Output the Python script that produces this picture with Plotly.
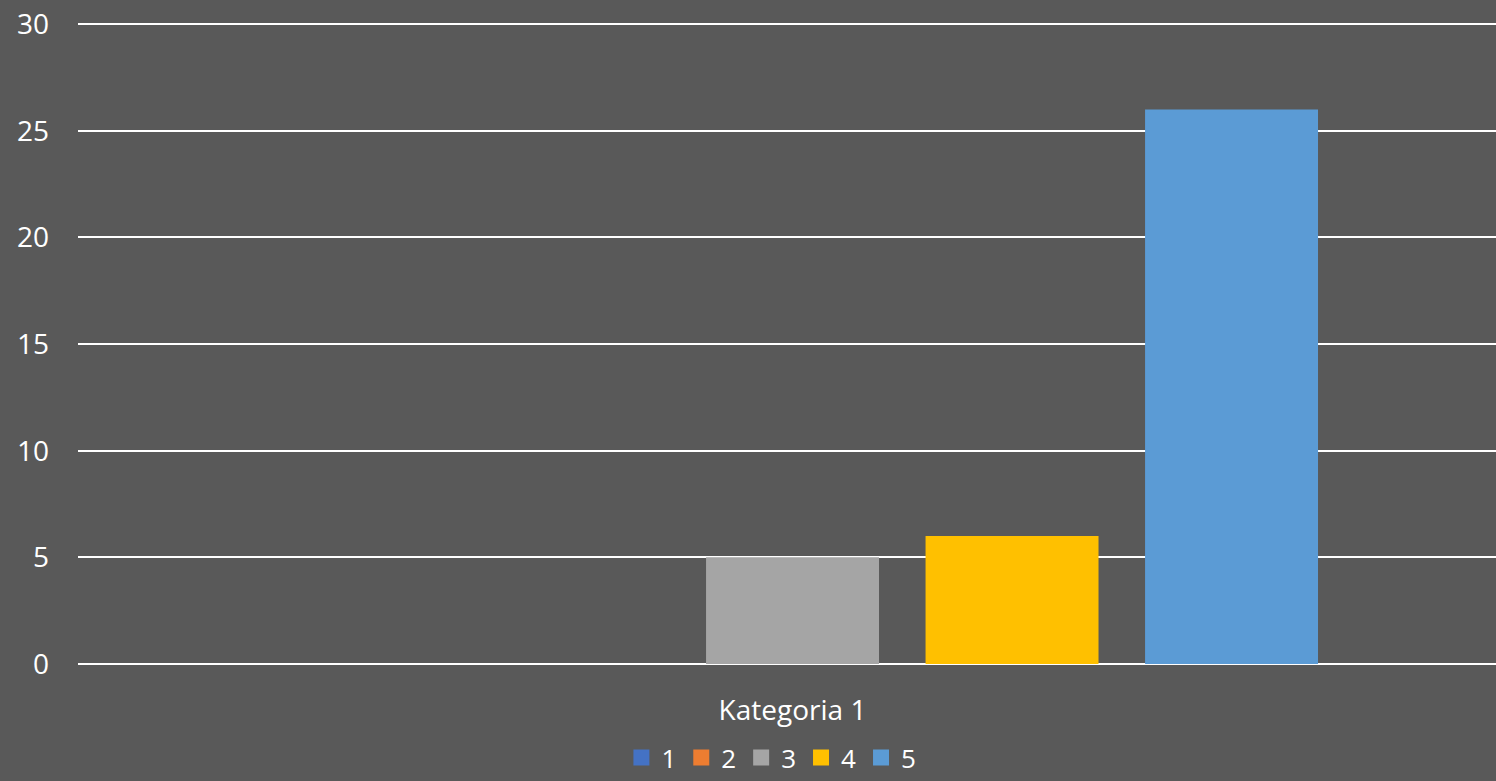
import plotly.graph_objects as go

categories = ["Kategoria 1"]
series_names = ["1", "2", "3", "4", "5"]
series_values = [[0], [0], [5], [6], [26]]
colors = ["#4472C4", "#ED7D31", "#A5A5A5", "#FFC000", "#5B9BD5"]
y_ticks = [0, 5, 10, 15, 20, 25, 30]

fig = go.Figure()
for name, vals, col in zip(series_names, series_values, colors):
    fig.add_trace(go.Bar(x=categories, y=vals, name=name, showlegend=False,
                         marker=dict(color=col, line=dict(width=0))))
# legend entries with larger square swatches
for name, col in zip(series_names, colors):
    fig.add_trace(go.Scatter(x=[None], y=[None], mode="markers", name=name,
                             marker=dict(symbol="square", size=17, color=col)))

bg = "#595959"
fig.update_layout(
    width=1496, height=781,
    paper_bgcolor=bg, plot_bgcolor=bg,
    barmode="group", bargap=0.226, bargroupgap=0.212,
    margin=dict(l=78, r=0, t=23, b=117, autoexpand=False),
    font=dict(family="Open Sans", color="white", size=28),
    showlegend=True,
    legend=dict(orientation="h", x=0.489, xanchor="center",
                yref="container", y=-6 / 781, yanchor="bottom",
                font=dict(size=26, color="white"), itemwidth=30, traceorder="normal",
                bgcolor="rgba(0,0,0,0)"),
    xaxis=dict(showgrid=False, showline=False, ticks="", tickfont=dict(size=28, color="white"),
               range=[-0.5039, 0.4961], ticklabelstandoff=27, automargin=False),
    yaxis=dict(range=[0, 30.05], tickvals=y_ticks, showgrid=True, gridcolor="white", gridwidth=2,
               zeroline=True, zerolinecolor="white", zerolinewidth=2, automargin=False,
               tickfont=dict(size=28, color="white"), ticks="", ticklabelstandoff=28),
)
fig.write_html("out.html", config={"displayModeBar": False},
               post_script="document.body.style.margin='0';document.body.style.overflow='hidden';")
